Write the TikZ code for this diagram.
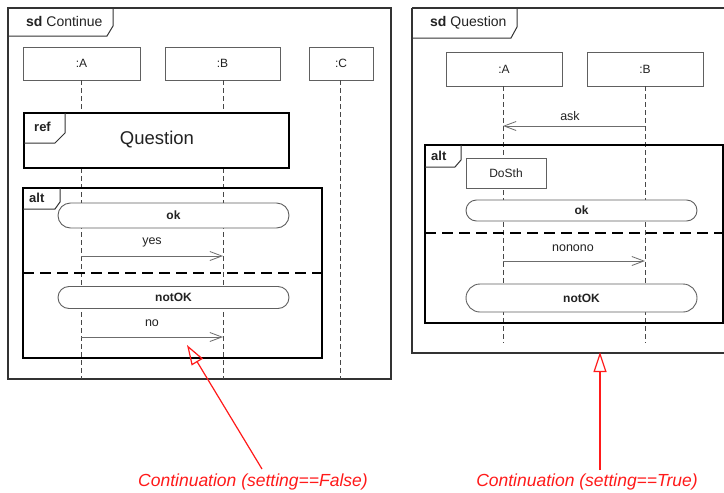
\documentclass[tikz,border=0pt]{standalone}
\usepackage{fontspec}
\setmainfont{Liberation Sans}
\usetikzlibrary{arrows.meta,shapes.misc}
\definecolor{frameline}{HTML}{333333}
\definecolor{boxline}{HTML}{606060}
\definecolor{txt}{HTML}{222222}
\definecolor{notered}{HTML}{FF1A1A}
\tikzset{
  frm/.style={draw=frameline, line width=1.6pt},
  tabline/.style={draw=frameline, line width=1pt},
  lifebox/.style={draw=boxline, line width=0.9pt, fill=white, rectangle, inner sep=0pt, text=txt, font=\fontsize{12}{14}\selectfont},
  lifeline/.style={draw=frameline!90, line width=0.8pt, dash pattern=on 5pt off 3pt},
  pill/.style={draw=boxline, line width=0.9pt, fill=white, rounded rectangle, inner sep=0pt, text=txt, font=\bfseries\fontsize{12}{14}\selectfont},
  msg/.style={draw=gray!85!black, line width=0.8pt, -{Straight Barb[length=12pt,width=9pt,line width=0.8pt]}},
  msglabel/.style={text=txt, font=\fontsize{12.5}{14}\selectfont, inner sep=0pt},
  sep/.style={draw=black, line width=2pt, dash pattern=on 11pt off 6pt},
  note/.style={draw=notered, line width=1.2pt, -{Triangle[open, length=20pt, width=13pt, line width=1.2pt]}},
  notetext/.style={text=notered, font=\itshape\fontsize{17.5}{20}\selectfont, inner sep=0pt},
  tabtext/.style={text=txt, font=\fontsize{14}{16}\selectfont, inner sep=0pt, anchor=west},
  optext/.style={text=txt, font=\bfseries\fontsize{13}{15}\selectfont, inner sep=0pt, anchor=west}
}
\begin{document}
\begin{tikzpicture}[x=1pt,y=-1pt]
\clip (0,0) rectangle (724,493);
\fill[white] (0,0) rectangle (724,493);

% ===== Left frame: sd Continue =====
\draw[frm] (8,8) rectangle (391,379);
\draw[tabline] (8,36) -- (107,36) -- (113,26) -- (113,8);
\node[tabtext] (lt) at (26,21) {\textbf{sd} Continue};

% lifelines (left)
\node[lifebox, minimum width=117pt, minimum height=33pt] (LA) at (81.5,63.5) {:A};
\node[lifebox, minimum width=115pt, minimum height=33pt] (LB) at (222.5,63.5) {:B};
\node[lifebox, minimum width=64pt, minimum height=33pt] (LC) at (341,63.5) {:C};
\coordinate (LAe) at (81,379);
\coordinate (LBe) at (223,379);
\coordinate (LCe) at (340,379);
\draw[lifeline] (LA.south -| LAe) -- (LAe);
\draw[lifeline] (LB.south -| LBe) -- (LBe);
\draw[lifeline] (LC.south -| LCe) -- (LCe);

% ref Question
\node[draw=black, line width=1.3pt, fill=white, rectangle, minimum width=265pt, minimum height=55pt, inner sep=0pt] (ref) at (156.5,140.5) {};
\draw[tabline] (24,143) -- (55,143) -- (65,133) -- (65,113);
\node[optext] (reft) at (34,127) {ref};
\node[text=txt, font=\fontsize{18.5}{20}\selectfont, inner sep=0pt] (refq) at (157,140) {Question};

% alt (left)
\draw[draw=black, line width=2.6pt] (23,188) rectangle (322,358);
\draw[tabline] (23,209) -- (55,209) -- (60,202) -- (60,188);
\node[optext] (lalt) at (29,198) {alt};
\node[pill, minimum width=231pt, minimum height=25pt] (lok) at (173.5,215.5) {ok};
\coordinate (ly1) at (81,256);
\coordinate (ly2) at (223,256);
\draw[msg] (ly1) -- (ly2);
\node[msglabel] (lyes) at (152,242) {yes};
\coordinate (ls1) at (23,273);
\coordinate (ls2) at (322,273);
\draw[sep] (ls1) -- (ls2);
\node[pill, minimum width=231pt, minimum height=22pt] (lnok) at (173.5,297.5) {notOK};
\coordinate (ln1) at (81,337);
\coordinate (ln2) at (223,337);
\draw[msg] (ln1) -- (ln2);
\node[msglabel] (lno) at (152,323) {no};

% ===== Right frame: sd Question =====
\draw[frm] (412,8) -- (730,8) (412,8) -- (412,353) -- (730,353);
\draw[tabline] (412,38) -- (511,38) -- (517,27) -- (517,8);
\node[tabtext] (rt) at (430,23) {\textbf{sd} Question};

\node[lifebox, minimum width=116pt, minimum height=34pt] (RA) at (504,69) {:A};
\node[lifebox, minimum width=116pt, minimum height=34pt] (RB) at (645,69) {:B};
\coordinate (RAe) at (503,343);
\coordinate (RBe) at (645,343);
\draw[lifeline] (RA.south -| RAe) -- (RAe);
\draw[lifeline] (RB.south -| RBe) -- (RBe);

\coordinate (ra1) at (645,126);
\coordinate (ra2) at (503,126);
\draw[msg] (ra1) -- (ra2);
\node[msglabel] (rask) at (570,116) {ask};

% alt (right)
\draw[draw=black, line width=1.5pt] (425,145) rectangle (723,323);
\draw[tabline] (425,167) -- (455,167) -- (461,160) -- (461,145);
\node[optext] (ralt) at (431,156) {alt};
\node[lifebox, minimum width=80pt, minimum height=30pt] (dosth) at (506,173) {DoSth};
\node[pill, minimum width=231pt, minimum height=21pt] (rok) at (581.5,210.5) {ok};
\coordinate (rs1) at (425,233);
\coordinate (rs2) at (723,233);
\draw[sep] (rs1) -- (rs2);
\coordinate (rn1) at (503,261);
\coordinate (rn2) at (645,261);
\draw[msg] (rn1) -- (rn2);
\node[msglabel] (rnon) at (573,248) {nonono};
\node[pill, minimum width=231pt, minimum height=28pt] (rnok) at (581.5,298) {notOK};

% ===== Notes =====
\node[notetext] (nf) at (253,482) {Continuation (setting==False)};
\node[notetext] (nt) at (587,482) {Continuation (setting==True)};
\coordinate (nfs) at (262,469);
\coordinate (nfe) at (187,345);
\coordinate (nts) at (600,470);
\coordinate (nte) at (600,352);
\draw[note] (nfs) -- (nfe);
\draw[note] (nts) -- (nte);
\end{tikzpicture}
\end{document}
